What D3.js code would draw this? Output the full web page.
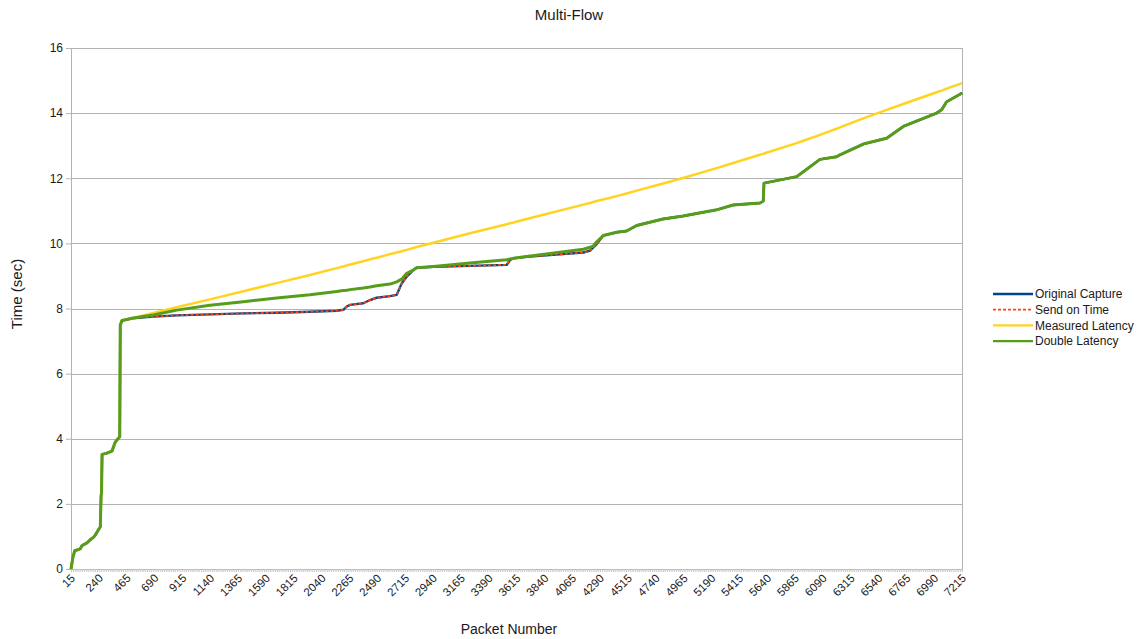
<!DOCTYPE html>
<html>
<head>
<meta charset="utf-8">
<script src="https://cdn.jsdelivr.net/npm/d3@7"></script>
<style>
  body { margin: 0; background: #fff; }
  text { font-family: "Liberation Sans", Arial, sans-serif; fill: #1a1a1a; }
</style>
</head>
<body>
<div id="container"></div>
<script>
/* CONSTANTS AND GLOBALS */
const margin = {top: 48, right: 178, bottom: 70, left: 71},
width = 1140 - margin.left - margin.right,
height = 639 - margin.top - margin.bottom;

/* DATA */
const packets = [15, 30, 45, 90, 104, 144, 171, 198, 211, 233,
  252, 258, 262, 266, 300, 346, 373, 409, 413, 427,
  465, 508, 680, 869, 1138, 1407, 1677, 1946, 2162, 2215,
  2243, 2270, 2377, 2431, 2485, 2593, 2647, 2687, 2728, 2781,
  2808, 2943, 3239, 3536, 3563, 3589, 3697, 4155, 4209, 4236,
  4263, 4316, 4424, 4505, 4586, 4800, 4962, 5232, 5366, 5582,
  5609, 5615, 5879, 5933, 6067, 6202, 6229, 6417, 6606, 6741,
  7010, 7050, 7091, 7199, 7215];

const originalCapture = [0, 0.35, 0.56, 0.62, 0.72, 0.80, 0.90, 0.98, 1.04, 1.18,
  1.30, 2.25, 2.35, 3.52, 3.55, 3.62, 3.90, 4.06, 7.49, 7.63,
  7.66, 7.70, 7.75, 7.79, 7.82, 7.85, 7.87, 7.90, 7.93, 7.96,
  8.06, 8.11, 8.16, 8.26, 8.33, 8.38, 8.42, 8.77, 8.98, 9.18,
  9.25, 9.28, 9.31, 9.34, 9.49, 9.54, 9.59, 9.72, 9.78, 9.88,
  9.98, 10.24, 10.34, 10.38, 10.55, 10.75, 10.84, 11.03, 11.18, 11.24,
  11.30, 11.85, 12.05, 12.20, 12.58, 12.66, 12.72, 13.05, 13.23, 13.59,
  14.00, 14.10, 14.35, 14.58, 14.62];

const sendOnTime = [0, 0.35, 0.56, 0.62, 0.72, 0.80, 0.90, 0.98, 1.04, 1.18,
  1.30, 2.25, 2.35, 3.52, 3.55, 3.62, 3.90, 4.06, 7.49, 7.63,
  7.66, 7.70, 7.75, 7.79, 7.82, 7.85, 7.87, 7.90, 7.93, 7.96,
  8.06, 8.11, 8.16, 8.26, 8.33, 8.38, 8.42, 8.77, 8.98, 9.18,
  9.25, 9.28, 9.31, 9.34, 9.49, 9.54, 9.59, 9.72, 9.78, 9.88,
  9.98, 10.24, 10.34, 10.38, 10.55, 10.75, 10.84, 11.03, 11.18, 11.24,
  11.30, 11.85, 12.05, 12.20, 12.58, 12.66, 12.72, 13.05, 13.23, 13.59,
  14.00, 14.10, 14.35, 14.58, 14.62];

const measuredLatency = [0, 0.35, 0.56, 0.62, 0.72, 0.80, 0.90, 0.98, 1.04, 1.18,
  1.30, 2.25, 2.35, 3.52, 3.55, 3.62, 3.90, 4.06, 7.49, 7.63,
  7.66, 7.70, 7.86, 8.04, 8.28, 8.53, 8.78, 9.03, 9.24, 9.29,
  9.32, 9.35, 9.45, 9.51, 9.56, 9.67, 9.72, 9.76, 9.80, 9.86,
  9.89, 10.02, 10.31, 10.59, 10.62, 10.64, 10.75, 11.19, 11.24, 11.27,
  11.30, 11.35, 11.45, 11.53, 11.62, 11.84, 12.01, 12.31, 12.47, 12.72,
  12.75, 12.76, 13.08, 13.15, 13.33, 13.52, 13.56, 13.84, 14.10, 14.28,
  14.64, 14.69, 14.75, 14.90, 14.92];

const doubleLatency = [0, 0.35, 0.56, 0.62, 0.72, 0.80, 0.90, 0.98, 1.04, 1.18,
  1.30, 2.25, 2.35, 3.52, 3.55, 3.62, 3.90, 4.06, 7.49, 7.63,
  7.66, 7.70, 7.80, 7.95, 8.10, 8.21, 8.32, 8.42, 8.52, 8.55,
  8.56, 8.58, 8.63, 8.66, 8.70, 8.75, 8.82, 8.90, 9.08, 9.18,
  9.25, 9.29, 9.40, 9.50, 9.52, 9.54, 9.60, 9.82, 9.88, 9.92,
  10.05, 10.24, 10.34, 10.38, 10.55, 10.75, 10.84, 11.03, 11.18, 11.24,
  11.30, 11.85, 12.05, 12.20, 12.58, 12.66, 12.72, 13.05, 13.23, 13.59,
  14.00, 14.10, 14.35, 14.58, 14.62];

const xTickLabels = [15, 240, 465, 690, 915, 1140, 1365, 1590, 1815, 2040,
  2265, 2490, 2715, 2940, 3165, 3390, 3615, 3840, 4065, 4290,
  4515, 4740, 4965, 5190, 5415, 5640, 5865, 6090, 6315, 6540,
  6765, 6990, 7215];
const yTicks = [0, 2, 4, 6, 8, 10, 12, 14, 16];

const seriesNames = ["Original Capture", "Send on Time", "Measured Latency", "Double Latency"];
const seriesValues = [originalCapture, sendOnTime, measuredLatency, doubleLatency];
const seriesColors = ["#004586", "#ff420e", "#ffd320", "#579d1c"];
const seriesWidths = [2.4, 1.8, 2.5, 3];
const seriesDash = [null, "3,2", null, null];

const svg = d3.select("#container")
  .append("svg")
  .attr("width", 1140)
  .attr("height", 639);

svg.append("rect").attr("width", 1140).attr("height", 639).attr("fill", "#fff");

const g = svg.append("g")
  .attr("transform", "translate(" + margin.left + "," + margin.top + ")");

/* SCALES */
const xScale = d3.scaleLinear()
  .domain([15, 7215])
  .range([0, width]);

const yScale = d3.scaleLinear()
  .domain([0, 16])
  .range([height, 0]);

/* GRID + FRAME */
g.selectAll(".grid")
  .data(yTicks)
  .join("line")
  .attr("x1", 0)
  .attr("x2", width)
  .attr("y1", d => Math.round(yScale(d)) + 0.5)
  .attr("y2", d => Math.round(yScale(d)) + 0.5)
  .attr("stroke", "#b3b3b3")
  .attr("stroke-width", 1);

g.append("line")
  .attr("x1", width + 0.5).attr("x2", width + 0.5)
  .attr("y1", 0).attr("y2", height)
  .attr("stroke", "#b3b3b3");

/* Y AXIS */
const yAxis = g.append("g")
  .call(d3.axisLeft(yScale).tickValues(yTicks).tickSize(5).tickPadding(3));
yAxis.select(".domain").attr("stroke", "#b3b3b3");
yAxis.selectAll(".tick line").attr("stroke", "#b3b3b3");
yAxis.selectAll("text")
  .style("font-size", "12px")
  .style("font-family", "'Liberation Sans', Arial, sans-serif")
  .attr("fill", "#1a1a1a");

/* X AXIS - one small tick per category, labels every 225 packets */
const xAxis = g.append("g")
  .attr("transform", "translate(0," + height + ")")
  .call(d3.axisBottom(xScale).tickValues(d3.range(15, 7216, 15)).tickSize(3).tickFormat(""));
xAxis.select(".domain").attr("stroke", "#b3b3b3");
xAxis.selectAll(".tick line").attr("stroke", "#c8c8c8");

g.append("g")
  .selectAll("text")
  .data(xTickLabels)
  .join("text")
  .attr("transform", d => "translate(" + (xScale(d) + 2) + "," + (height + 7) + ")rotate(-45)")
  .attr("text-anchor", "end")
  .attr("dy", "0.35em")
  .style("font-size", "11.5px")
  .text(d => d);

/* LINES */
const line = d3.line()
  .x((d, i) => xScale(packets[i]))
  .y(d => yScale(d));

seriesValues.forEach((vals, k) => {
  g.append("path")
    .datum(vals)
    .attr("fill", "none")
    .attr("stroke", seriesColors[k])
    .attr("stroke-width", seriesWidths[k])
    .attr("stroke-linejoin", "round")
    .attr("stroke-dasharray", seriesDash[k])
    .attr("d", line);
});

/* TITLES */
svg.append("text")
  .attr("x", 569).attr("y", 20)
  .attr("text-anchor", "middle")
  .style("font-size", "15px")
  .text("Multi-Flow");

svg.append("text")
  .attr("transform", "translate(22,294)rotate(-90)")
  .attr("text-anchor", "middle")
  .style("font-size", "15px")
  .text("Time (sec)");

svg.append("text")
  .attr("x", 509).attr("y", 634)
  .attr("text-anchor", "middle")
  .style("font-size", "14px")
  .text("Packet Number");

/* LEGEND */
const legend = svg.append("g").attr("transform", "translate(993,294)");
const rows = legend.selectAll("g")
  .data(seriesNames)
  .join("g")
  .attr("transform", (d, i) => "translate(0," + (i * 15.7) + ")");
rows.append("line")
  .attr("x1", 0).attr("x2", 40)
  .attr("stroke", (d, i) => seriesColors[i])
  .attr("stroke-width", (d, i) => i == 1 ? 1.8 : 2.4)
  .attr("stroke-dasharray", (d, i) => seriesDash[i]);
rows.append("text")
  .attr("x", 42)
  .attr("dy", "0.35em")
  .style("font-size", "12px")
  .text(d => d);
</script>
</body>
</html>
